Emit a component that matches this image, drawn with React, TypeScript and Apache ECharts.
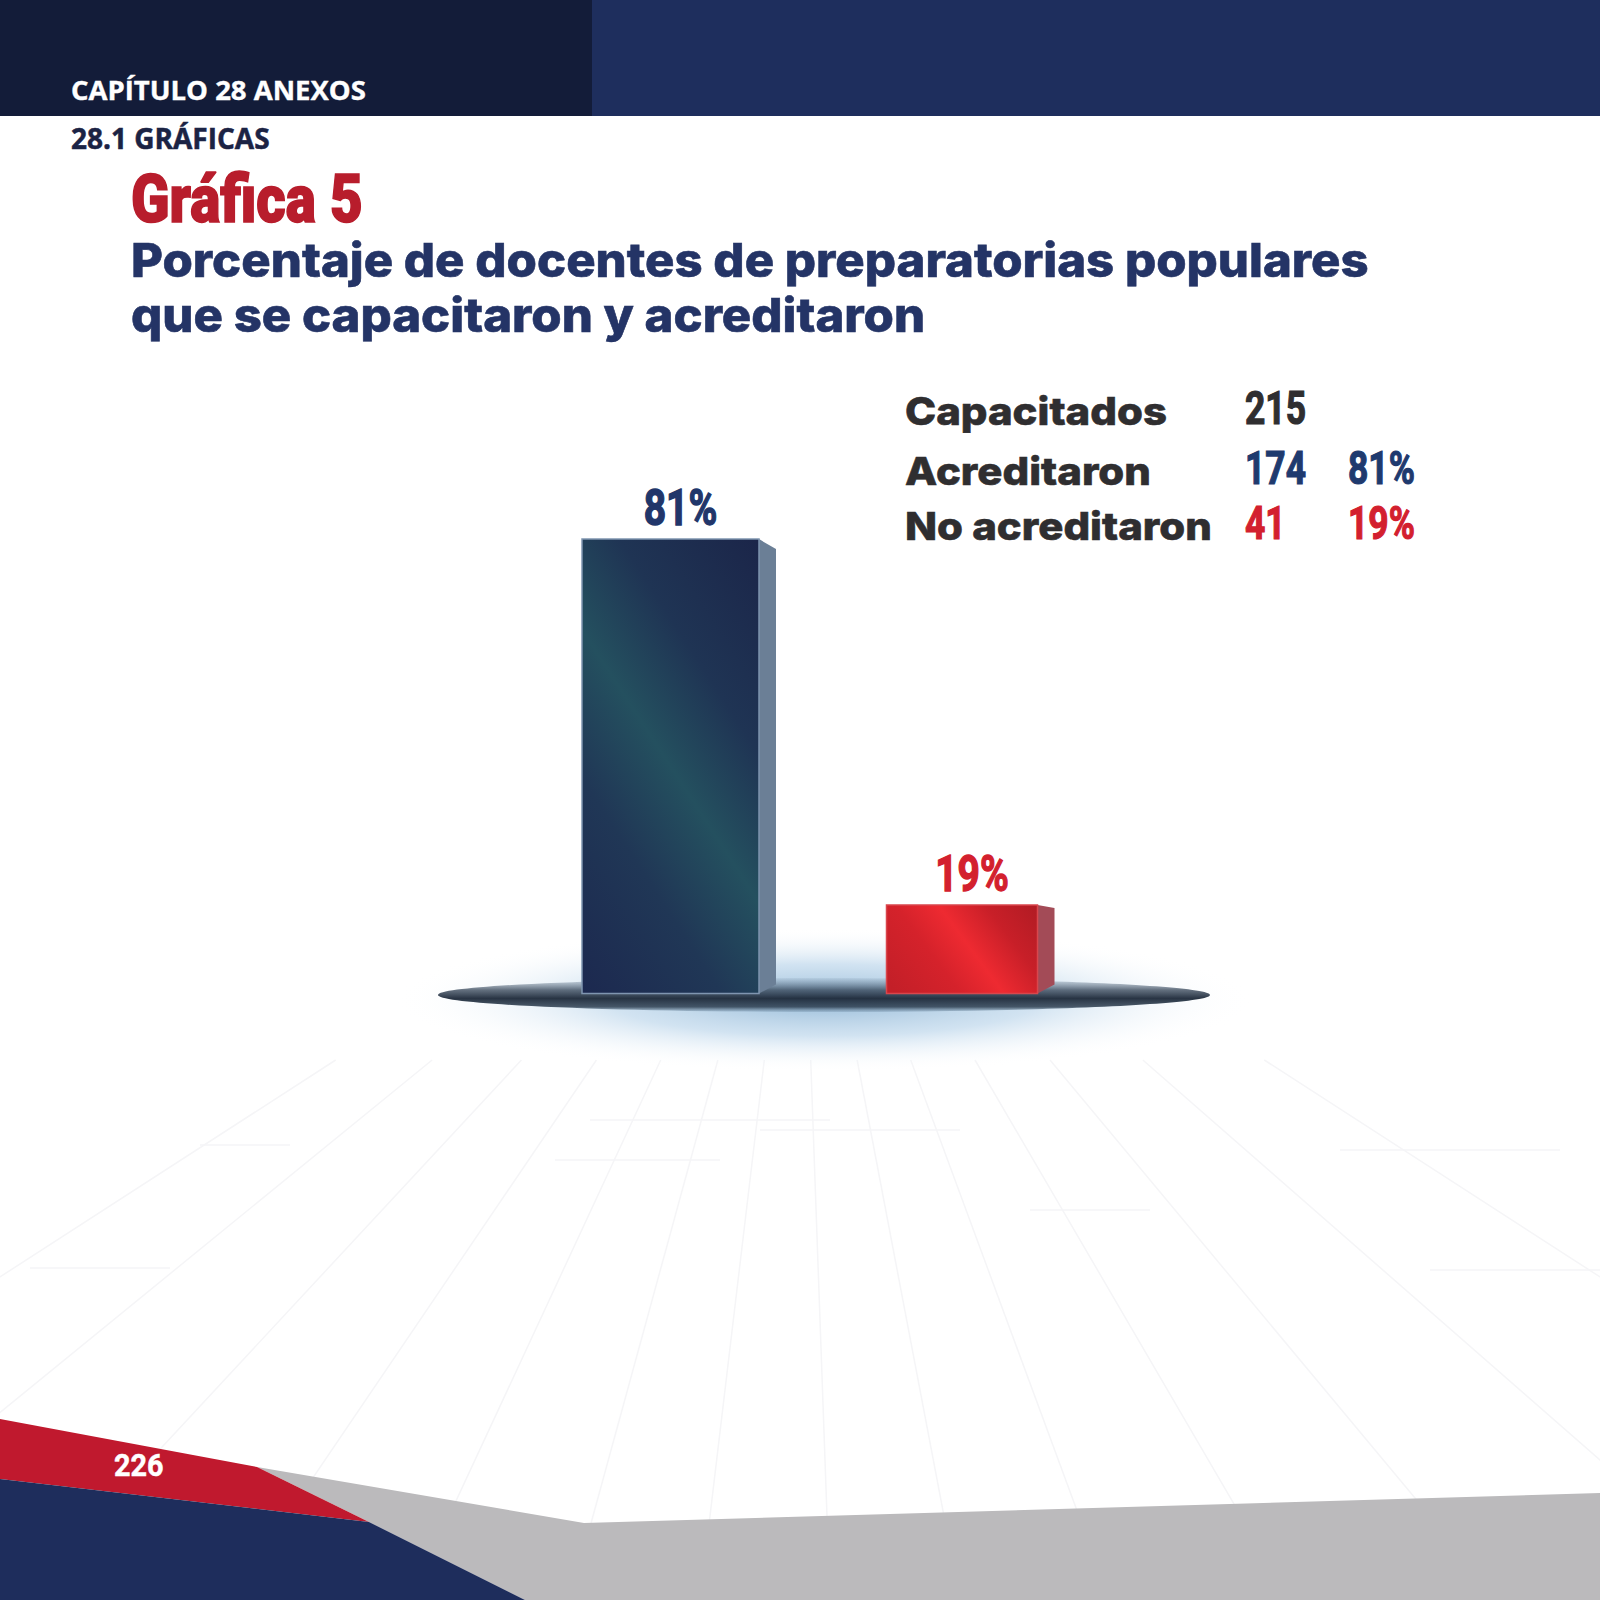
import React, { useEffect, useRef } from "react";
import * as echarts from "echarts";

// ---- data ----
const CATEGORIES = ["Acreditaron", "No acreditaron"];
const PERCENTS = [81, 19];
const TABLE_LABELS = ["Capacitados", "Acreditaron", "No acreditaron"];
const TABLE_COUNTS = [215, 174, 41];
const TABLE_PCTS: (number | null)[] = [null, 81, 19];
const HEADER_TEXT = "CAPÍTULO 28 ANEXOS";
const SECTION_TEXT = "28.1 GRÁFICAS";
const TITLE_TEXT = "Gráfica 5";
const SUBTITLE_LINES = [
  "Porcentaje de docentes de preparatorias populares",
  "que se capacitaron y acreditaron",
];
const PAGE_NUMBER = "226";

// ---- styles ----
const Y_MIN = 4;
const Y_MAX = 100;
const BAR_W = [177, 151];
const SIDE_W = 17;
const TOP_SLANT = [10, 3];
const BOTTOM_SLANT = 9;
const NAVY = "#21366a";
const RED = "#d3202e";
const DARK = "#2f2e30";
const ROW_COLORS = [DARK, "#1f3a6e", RED];
const LABEL_COLORS = [NAVY, RED];
const SIDE_FILLS = ["#6b7f96", "#a34b57"];
const FRONT_STROKES = ["#7f95b0", "#d9464c"];
const COND = "Roboto";
const GEO = "Inter";

function frontFill(i: number) {
  if (i === 0) {
    return new echarts.graphic.LinearGradient(0.86, -0.1, 0.14, 1.1, [
      { offset: 0, color: "#1b2549" },
      { offset: 0.3, color: "#1f3454" },
      { offset: 0.5, color: "#24505f" },
      { offset: 0.7, color: "#203756" },
      { offset: 1, color: "#1c284f" },
    ]);
  }
  return new echarts.graphic.LinearGradient(-0.04, 0.76, 1.16, 0.24, [
    { offset: 0, color: "#c31f28" },
    { offset: 0.3, color: "#d5222b" },
    { offset: 0.5, color: "#ee2a31" },
    { offset: 0.72, color: "#c81f28" },
    { offset: 1, color: "#ad1b23" },
  ]);
}

function buildOption() {
  const W = 1600;
  const graphics: any[] = [];

  // header bands
  graphics.push({ type: "rect", z: 0, shape: { x: 0, y: 0, width: W, height: 116 }, style: { fill: "#1e2e5d" } });
  graphics.push({ type: "rect", z: 0, shape: { x: 0, y: 0, width: 592, height: 116 }, style: { fill: "#131c39" } });

  // faint perspective lines
  const vp = [800, 760];
  const bottomXs = [-500, -230, 20, 230, 410, 570, 700, 830, 960, 1110, 1290, 1500, 1760, 2100];
  bottomXs.forEach((bx) => {
    const y0 = 1060, y1 = 1600;
    const t0 = (y0 - vp[1]) / (y1 - vp[1]);
    const x0 = vp[0] + (bx - vp[0]) * t0;
    graphics.push({
      type: "line", z: 0, silent: true,
      shape: { x1: x0, y1: y0, x2: bx, y2: y1 },
      style: { stroke: "#f5f5f7", lineWidth: 1.5 },
    });
  });
  const hSegs = [
    [30, 1268, 170, 1268], [200, 1145, 290, 1145], [590, 1120, 830, 1120], [555, 1160, 720, 1160],
    [1340, 1150, 1560, 1150], [1430, 1270, 1600, 1270], [1030, 1210, 1150, 1210], [760, 1130, 960, 1130],
  ];
  hSegs.forEach((s) => {
    graphics.push({ type: "line", z: 0, silent: true, shape: { x1: s[0], y1: s[1], x2: s[2], y2: s[3] }, style: { stroke: "#f5f5f7", lineWidth: 1.5 } });
  });

  // shadow haze under bars
  graphics.push({
    type: "circle", z: 1, silent: true,
    x: 824, y: 1000, scaleX: 4.3, scaleY: 0.72,
    shape: { cx: 0, cy: 0, r: 100 },
    style: {
      fill: new echarts.graphic.RadialGradient(0.5, 0.5, 0.5, [
        { offset: 0, color: "rgba(140,180,212,0.9)" },
        { offset: 0.5, color: "rgba(185,212,234,0.65)" },
        { offset: 1, color: "rgba(255,255,255,0)" },
      ]),
    },
  });
  // dark lens
  graphics.push({
    type: "ellipse", z: 1, silent: true,
    shape: { cx: 824, cy: 995, rx: 386, ry: 17 },
    style: {
      fill: new echarts.graphic.LinearGradient(0, 0, 0, 1, [
        { offset: 0, color: "rgba(90,115,140,0.1)" },
        { offset: 0.35, color: "rgba(50,66,85,0.75)" },
        { offset: 0.6, color: "rgba(30,42,58,0.95)" },
        { offset: 0.85, color: "rgba(45,62,80,0.85)" },
        { offset: 1, color: "rgba(110,140,165,0.3)" },
      ]),
    },
  });

  // bottom decoration
  graphics.push({ type: "polygon", z: 0, shape: { points: [[257, 1467], [584, 1523], [1600, 1493], [1600, 1600], [525, 1600], [369, 1522]] }, style: { fill: "#bbbabc" } });
  graphics.push({ type: "polygon", z: 0, shape: { points: [[0, 1419], [257, 1467], [369, 1522], [0, 1479]] }, style: { fill: "#c0192e" } });
  graphics.push({ type: "polygon", z: 0, shape: { points: [[0, 1479], [369, 1522], [525, 1600], [0, 1600]] }, style: { fill: "#1e2d5c" } });

  const txt = (text: string, x: number, y: number, size: number, color: string, family: string, weight: any, scaleX = 1, heavy = 0) => ({
    type: "text", z: 5, x, y, scaleX,
    style: {
      text, fill: color, fontSize: size, fontFamily: family, fontWeight: weight,
      stroke: heavy ? color : undefined, lineWidth: heavy,
      align: "left", textAlign: "left", verticalAlign: "middle", textVerticalAlign: "middle",
    },
  });

  graphics.push(txt(HEADER_TEXT, 71, 89, 27.5, "#ffffff", "Open Sans", 700, 1, 0.4));
  graphics.push(txt(SECTION_TEXT, 71, 138, 28, "#1b2344", "Open Sans", 700, 1, 0.5));
  graphics.push(txt(TITLE_TEXT, 131, 199, 67, "#b81d2c", COND, 900, 0.845, 1.6));
  graphics.push(txt(SUBTITLE_LINES[0], 131, 260, 47, "#243466", GEO, 800, 1.044, 0.6));
  graphics.push(txt(SUBTITLE_LINES[1], 131, 315, 47, "#243466", GEO, 800, 1.044, 0.6));
  graphics.push(txt(PAGE_NUMBER, 114, 1465, 32, "#ffffff", COND, 700, 0.9, 0.5));

  // table
  const rowBase = [425, 485, 540];
  TABLE_LABELS.forEach((lab, i) => {
    graphics.push(txt(lab, 905, rowBase[i] - 14, 39, DARK, GEO, 800, 1.075, 0.6));
    graphics.push(txt(String(TABLE_COUNTS[i]), 1245, rowBase[i] - 17, 46, ROW_COLORS[i], COND, 700, 0.77, 1.2));
    const p = TABLE_PCTS[i];
    if (p !== null) {
      graphics.push(txt(p + "%", 1348, rowBase[i] - 17, 46, ROW_COLORS[i], COND, 700, 0.77, 1.2));
    }
  });

  return {
    animation: false,
    backgroundColor: "#ffffff",
    grid: { left: 524.75, right: 492.25, top: 427, bottom: 606.5 },
    xAxis: { type: "category", data: CATEGORIES, show: false },
    yAxis: { type: "value", min: Y_MIN, max: Y_MAX, show: false },
    graphic: { elements: graphics },
    series: [
      {
        type: "custom",
        z: 10,
        data: PERCENTS.map((v, i) => [i, v]),
        encode: { x: 0, y: 1 },
        renderItem: (params: any, api: any) => {
          const i = params.dataIndex;
          const top = api.coord([api.value(0), api.value(1)]);
          const base = api.coord([api.value(0), Y_MIN]);
          const w = BAR_W[i];
          const x0 = top[0] - w / 2;
          const x1 = top[0] + w / 2;
          const yT = top[1];
          const yB = base[1];
          return {
            type: "group",
            children: [
              {
                type: "polygon",
                shape: { points: [[x1, yT], [x1 + SIDE_W, yT + TOP_SLANT[i]], [x1 + SIDE_W, yB - BOTTOM_SLANT], [x1, yB]] },
                style: { fill: SIDE_FILLS[i] },
              },
              {
                type: "rect",
                shape: { x: x0, y: yT, width: w, height: yB - yT },
                style: { fill: frontFill(i), stroke: FRONT_STROKES[i], lineWidth: 1.5 },
              },
              {
                type: "text",
                x: top[0] + 10,
                y: yT - 31,
                scaleX: 0.78,
                style: {
                  text: api.value(1) + "%",
                  fill: LABEL_COLORS[i],
                  stroke: LABEL_COLORS[i],
                  lineWidth: 1.4,
                  fontSize: 50,
                  fontFamily: COND,
                  fontWeight: 700,
                  align: "center", textAlign: "center",
                  verticalAlign: "middle", textVerticalAlign: "middle",
                },
              },
            ],
          };
        },
      },
    ],
  };
}

export default function App() {
  const ref = useRef<HTMLDivElement>(null);
  useEffect(() => {
    if (!ref.current) return;
    const chart = echarts.init(ref.current, undefined, { renderer: "svg" });
    chart.setOption(buildOption() as any);
    return () => chart.dispose();
  }, []);
  return (
    <div
      ref={ref}
      style={{ position: "absolute", left: 0, top: 0, width: 1600, height: 1600 }}
    />
  );
}
